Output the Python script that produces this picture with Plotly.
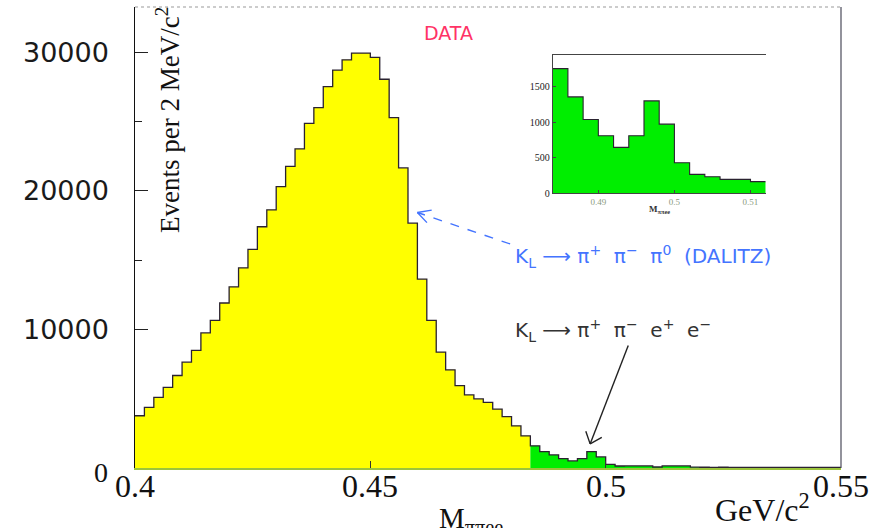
import math
import plotly.graph_objects as go

# ---- histogram data: M(pi pi e e), 2 MeV/c^2 bins from 0.400 GeV/c^2 ----
bin_lo = 0.400
bin_width = 0.002
split_mass = 0.484          # below: K_L -> pi+ pi- pi0 (Dalitz) region, above: signal region

counts = [
    3770, 4370, 5100, 5820, 6670, 7630, 8480, 9740, 10650, 11900,
    13070, 14440, 15770, 17400, 18620, 20300, 21760, 23020, 24850, 25990,
    27510, 28700, 29440, 29930, 29930, 29610, 28040, 25270, 21640, 17660,
    13620, 10650, 8360, 7080, 5940, 5270, 4980, 4730, 4250, 3700,
    3040, 2320, 1600, 1180, 940, 680, 510, 680, 1180, 800,
    265, 145, 150, 150, 150, 72, 150, 150, 150, 60,
    55, 50, 55, 45, 50, 40, 45, 50, 40, 45,
    40, 35, 40, 35, 40,
]

# zoomed view of the signal region
inset_lo = 0.484
inset_counts = [1758, 1359, 1041, 811, 647, 811, 1303, 975, 431, 267, 234, 197, 197, 164]

main_xticks = [0.40, 0.45, 0.50, 0.55]
main_xticktext = ["0.4", "0.45", "0.5", "0.55"]
main_yticks = [10000, 20000, 30000]
main_yticktext = ["10000", "20000", "30000"]
inset_xticks = [0.49, 0.50, 0.51]
inset_xticktext = ["0.49", "0.5", "0.51"]
inset_yticks = [0, 500, 1000, 1500]

# ---- layout constants ----
W, H = 878, 528
M_L, M_R, M_T, M_B = 135, 37, 7, 60
X_RANGE = [0.40, 0.55]
Y_RANGE = [0, 33250]
INSET_X = [0.484, 0.512]
INSET_Y = [0, 1950]

SERIF = "Liberation Serif"
SANS = "DejaVu Sans"
YELLOW = "#ffff00"
GREEN = "#00ee00"
EDGE = "#2a2230"
BLUE = "#4474ff"

n = len(counts)
edges = [bin_lo + bin_width * i for i in range(n + 1)]
split = next(i for i, e in enumerate(edges) if e >= split_mass - 1e-9)

fig = go.Figure()

def step_fill(xe, yv, color, xa="x", ya="y"):
    fig.add_trace(go.Scatter(
        x=xe, y=list(yv) + [yv[-1]], mode="lines", line_shape="hv",
        line=dict(width=0, color=color), fill="tozeroy", fillcolor=color,
        xaxis=xa, yaxis=ya, hoverinfo="skip", showlegend=False))

def step_line(xe, yv, xa="x", ya="y", width=1.3):
    fig.add_trace(go.Scatter(
        x=xe, y=list(yv) + [yv[-1]], mode="lines", line_shape="hv",
        line=dict(width=width, color=EDGE),
        xaxis=xa, yaxis=ya, hoverinfo="skip", showlegend=False))

# main histogram
step_fill(edges[:split + 1], counts[:split], YELLOW)
step_fill(edges[split:], counts[split:], GREEN)
step_line(edges, counts)

# inset histogram
inset_edges = [inset_lo + bin_width * i for i in range(len(inset_counts) + 1)]
step_fill(inset_edges, inset_counts, GREEN, "x2", "y2")
step_line(inset_edges, inset_counts, "x2", "y2", width=1.1)

plot_w = W - M_L - M_R
plot_h = H - M_T - M_B
base_px = H - M_B
ann = []

def py(px):
    """paper y for a pixel row measured from the top of the figure"""
    return (base_px - px) / plot_h

def px_(pxx):
    """paper x for a pixel column measured from the left of the figure"""
    return (pxx - M_L) / plot_w

# y tick labels
for v, t in zip(main_yticks, main_yticktext):
    ann.append(dict(x=px_(111), y=v, xref="paper", yref="y", text=t,
                    xanchor="right", yanchor="middle", showarrow=False,
                    font=dict(family=SANS, size=27, color="#1a1a1a")))
ann.append(dict(x=px_(101), y=0, xref="paper", yref="y", text="0",
                xanchor="center", yanchor="middle", yshift=-4, showarrow=False,
                font=dict(family=SERIF, size=28, color="#111")))

# x tick labels
for v, t in zip(main_xticks, main_xticktext):
    ann.append(dict(x=v, y=py(486), xref="x", yref="paper", text=t,
                    xanchor="center", yanchor="middle", showarrow=False,
                    font=dict(family=SERIF, size=32, color="#111")))

# axis titles
ann.append(dict(x=px_(168), y=py(120), xref="paper", yref="paper",
                text="Events per 2 MeV/c<sup>2</sup>", textangle=-90,
                xanchor="center", yanchor="middle", showarrow=False,
                font=dict(family=SERIF, size=27, color="#111")))
ann.append(dict(x=px_(437), y=py(500), xref="paper", yref="paper",
                text="M<sub>ππee</sub>",
                xanchor="left", yanchor="top", showarrow=False,
                font=dict(family=SERIF, size=29, color="#111")))
ann.append(dict(x=px_(713), y=py(486), xref="paper", yref="paper",
                text="GeV/c<sup>2</sup>",
                xanchor="left", yanchor="top", showarrow=False,
                font=dict(family=SERIF, size=32, color="#111")))

# DATA tag
ann.append(dict(x=px_(448), y=py(33), xref="paper", yref="paper", text="DATA",
                xanchor="center", yanchor="middle", showarrow=False,
                font=dict(family=SANS, size=19, color="#ff3366")))

# decay mode labels
ann.append(dict(x=0.4803, y=15220, xref="x", yref="y",
                text="K<sub>L</sub> ⟶ π<sup>+</sup>  π<sup>−</sup>  π<sup>0</sup>  (DALITZ)",
                xanchor="left", yanchor="middle", showarrow=False,
                font=dict(family=SANS, size=20, color=BLUE)))
ann.append(dict(x=0.4803, y=9930, xref="x", yref="y",
                text="K<sub>L</sub> ⟶ π<sup>+</sup>  π<sup>−</sup>  e<sup>+</sup>  e<sup>−</sup>",
                xanchor="left", yanchor="middle", showarrow=False,
                font=dict(family=SANS, size=20, color="#333")))

# arrows pointing at the two components
sx = plot_w / (X_RANGE[1] - X_RANGE[0])
sy = plot_h / (Y_RANGE[1] - Y_RANGE[0])
arrows = [
    dict(tail=(0.4797, 16160), tip=(0.4600, 18430), color=BLUE, dash="dash", L=16, spread=28),
    dict(tail=(0.5048, 8840), tip=(0.4967, 1740), color="#222", dash="solid", L=15, spread=40),
]
shapes = []
for a in arrows:
    (x0, y0), (x1, y1) = a["tail"], a["tip"]
    shapes.append(dict(type="line", xref="x", yref="y", x0=x0, y0=y0, x1=x1, y1=y1,
                       line=dict(color=a["color"], width=1.4, dash=a["dash"])))
    ang = math.atan2(-(y0 - y1) * sy, (x0 - x1) * sx)
    for s in (-1, 1):
        th = ang + s * math.radians(a["spread"])
        ann.append(dict(x=x1, y=y1, xref="x", yref="y", text="", showarrow=True,
                        arrowhead=0, arrowwidth=1.4, arrowcolor=a["color"],
                        ax=a["L"] * math.cos(th), ay=a["L"] * math.sin(th)))

# inset placement and axis title
ix0, ix1 = px_(552.7), px_(765.7)
iy0, iy1 = py(193.3), py(55)
ann.append(dict(x=px_(659), y=py(202), xref="paper", yref="paper",
                text="<b>M<sub>ππee</sub></b>", xanchor="center", yanchor="top",
                showarrow=False, font=dict(family=SERIF, size=9, color="#333")))

# frame: top and right borders
shapes.append(dict(type="line", xref="paper", yref="paper", x0=0, x1=1, y0=1, y1=1,
                   line=dict(color="#9a9a9a", width=1.2, dash="dot")))
shapes.append(dict(type="line", xref="paper", yref="paper", x0=1, x1=1, y0=0, y1=1,
                   line=dict(color="#4a4a5a", width=1.2)))

fig.update_layout(
    width=W, height=H, autosize=False,
    margin=dict(l=M_L, r=M_R, t=M_T, b=M_B),
    paper_bgcolor="white", plot_bgcolor="white",
    showlegend=False,
    annotations=ann, shapes=shapes,
    xaxis=dict(range=X_RANGE, tickvals=main_xticks, showticklabels=False,
               ticks="inside", ticklen=7, tickcolor="#333", tickwidth=1,
               showgrid=False, zeroline=False, showline=True,
               linecolor="#9cc43c", linewidth=1.5, layer="above traces"),
    yaxis=dict(range=Y_RANGE, tickvals=main_yticks,
               showticklabels=False, ticks="inside", ticklen=13,
               tickcolor="#222", tickwidth=1,
               minor=dict(tickvals=[15000, 25000], ticks="inside", ticklen=7,
                          tickcolor="#222"),
               showgrid=False, zeroline=False, showline=True,
               linecolor="#111", linewidth=1.3),
    xaxis2=dict(domain=[ix0, ix1], anchor="y2", range=INSET_X,
                tickvals=inset_xticks, ticktext=inset_xticktext,
                ticks="inside", ticklen=3, tickcolor="#444",
                tickfont=dict(family=SERIF, size=9, color="#8a9a80"),
                showgrid=False, zeroline=False, showline=True, mirror=True,
                linecolor="#444", linewidth=1),
    yaxis2=dict(domain=[iy0, iy1], anchor="x2", range=INSET_Y,
                tickvals=inset_yticks,
                ticks="inside", ticklen=3, tickcolor="#444",
                tickfont=dict(family=SERIF, size=10, color="#222"),
                showgrid=False, zeroline=False, showline=True,
                linecolor="#444", linewidth=1),
)

fig.write_html("out.html")
